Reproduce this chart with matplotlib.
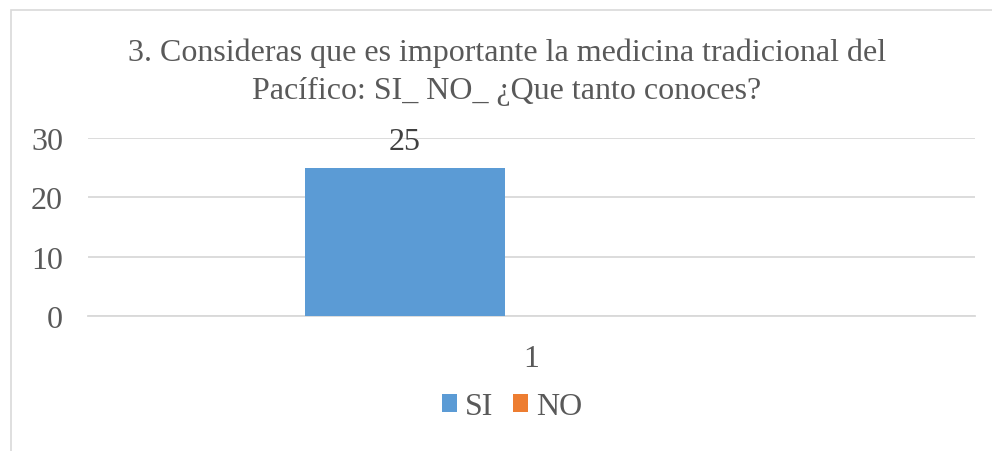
import matplotlib.pyplot as plt
from matplotlib.patches import Rectangle

categories = ['1']
series_names = ['SI', 'NO']
values_si = [25]
values_no = [0]
colors = ['#5B9BD5', '#ED7D31']
yticks = [0, 10, 20, 30]

W, H = 992, 452
plt.rcParams['font.family'] = ['Liberation Serif', 'DejaVu Serif']
grey = '#595959'
fs = 23

fig = plt.figure(figsize=(W / 100, H / 100), dpi=100)
ax = fig.add_axes([88 / W, 1 - 317 / H, (975 - 88) / W, (317 - 139) / H])

# chart border (runs off right and bottom edge)
fig.patches.append(Rectangle((11 / W, -0.05), 1.2, 1 - 11 / H + 0.05,
                             transform=fig.transFigure, fill=False,
                             edgecolor='#d9d9d9', linewidth=1.2))

w = 200 / 887
off = 0.1426
x = list(range(len(categories)))
b1 = ax.bar([i - off for i in x], values_si, w, color=colors[0], label=series_names[0], zorder=3)
b2 = ax.bar([i + off for i in x], values_no, w, color=colors[1], label=series_names[1], zorder=3)
for r, v in zip(b1, values_si):
    ax.text(r.get_x() + r.get_width() / 2, v + 2.0, str(v), ha='center', va='bottom',
            fontsize=fs, color='#404040')

ax.set_xlim(-0.5, 0.5)
ax.set_ylim(0, 30)
ax.set_yticks(yticks)
ax.set_xticks(x)
ax.set_xticklabels(categories)
ax.grid(axis='y', color='#d9d9d9', linewidth=1.3, zorder=0)
for s in ['top', 'right', 'left']:
    ax.spines[s].set_visible(False)
ax.spines['bottom'].set_color('#d9d9d9')
ax.spines['bottom'].set_linewidth(1.3)
ax.tick_params(axis='both', length=0, labelsize=fs, labelcolor=grey)
ax.tick_params(axis='y', pad=18)
ax.tick_params(axis='x', pad=20)

fig.text(507 / W, 1 - 72 / H, '3. Consideras que es importante la medicina tradicional del\n'
         'Pacífico: SI_ NO_ ¿Que tanto conoces?', ha='center', va='center',
         fontsize=fs, color=grey, linespacing=1.4)

ax.legend(loc='center', bbox_to_anchor=(512 / W, 1 - 408 / H), bbox_transform=fig.transFigure,
          ncol=2, frameon=False, fontsize=fs, labelcolor=grey, handlelength=0.47,
          handleheight=0.47, handletextpad=0.25, columnspacing=0.6)

fig.savefig('out.png', dpi=100)
